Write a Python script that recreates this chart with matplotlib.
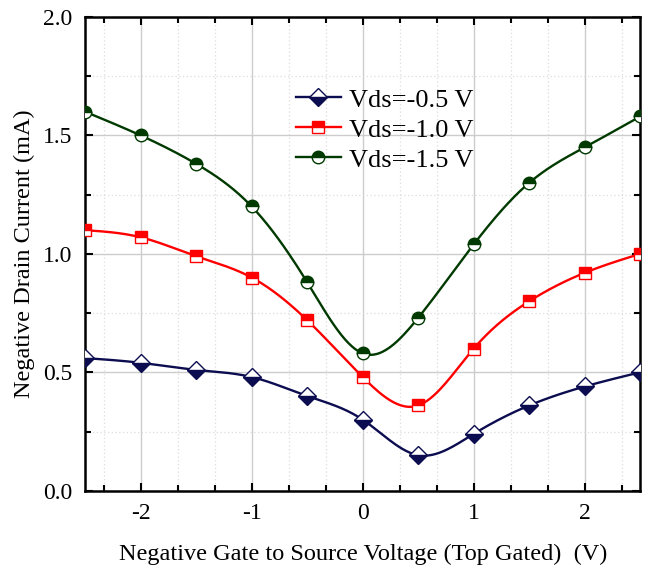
import matplotlib.pyplot as plt
import numpy as np
from matplotlib.ticker import AutoMinorLocator

plt.rcParams['font.family'] = ['Liberation Serif', 'DejaVu Serif']

vgs = [-2.5, -2.0, -1.5, -1.0, -0.5, 0.0, 0.5, 1.0, 1.5, 2.0, 2.5]
id_05 = [0.56, 0.54, 0.51, 0.48, 0.40, 0.30, 0.15, 0.24, 0.36, 0.44, 0.50]
id_10 = [1.10, 1.07, 0.99, 0.90, 0.72, 0.48, 0.36, 0.60, 0.80, 0.92, 1.00]
id_15 = [1.60, 1.50, 1.38, 1.20, 0.88, 0.58, 0.73, 1.04, 1.30, 1.45, 1.58]
labels = ['Vds=-0.5 V', 'Vds=-1.0 V', 'Vds=-1.5 V']


def spline(x, y, n=300):
    # natural cubic spline, only used to draw the smooth connecting line
    x = np.asarray(x, float)
    y = np.asarray(y, float)
    k = len(x)
    h = np.diff(x)
    A = np.zeros((k, k))
    b = np.zeros(k)
    A[0, 0] = A[-1, -1] = 1
    for i in range(1, k - 1):
        A[i, i - 1] = h[i - 1]
        A[i, i] = 2 * (h[i - 1] + h[i])
        A[i, i + 1] = h[i]
        b[i] = 6 * ((y[i + 1] - y[i]) / h[i] - (y[i] - y[i - 1]) / h[i - 1])
    m = np.linalg.solve(A, b)
    xs = np.linspace(x[0], x[-1], n)
    idx = np.clip(np.searchsorted(x, xs) - 1, 0, k - 2)
    x0, x1 = x[idx], x[idx + 1]
    hh = x1 - x0
    t0, t1 = x1 - xs, xs - x0
    ys = (m[idx] * t0**3 / (6 * hh) + m[idx + 1] * t1**3 / (6 * hh)
          + (y[idx] / hh - m[idx] * hh / 6) * t0
          + (y[idx + 1] / hh - m[idx + 1] * hh / 6) * t1)
    return xs, ys


fig, ax = plt.subplots(figsize=(6.5, 5.66), dpi=100)
fig.subplots_adjust(left=0.131, right=0.985, top=0.97, bottom=0.133)

series = [
    (id_05, '#0c0c50', 'D', 'bottom', 9),
    (id_10, '#ff0000', 's', 'top', 8),
    (id_15, '#003a00', 'o', 'top', 9),
]
for (vals, color, mk, fs, ms), lab in zip(series, labels):
    xs, ys = spline(vgs, vals)
    ax.plot(xs, ys, color=color, lw=1.7, zorder=3)
    ax.plot(vgs, vals, linestyle='none', marker=mk, ms=ms, color=color,
            fillstyle=fs, markerfacecoloralt='white', markeredgecolor=color,
            markeredgewidth=1.0, zorder=4)
    ax.plot([], [], color=color, lw=1.7, marker=mk, ms=ms, fillstyle=fs,
            markerfacecoloralt='white', markeredgecolor=color, label=lab)

ax.set_xlim(-2.5, 2.5)
ax.set_ylim(0, 2.0)
ax.xaxis.set_minor_locator(AutoMinorLocator(3))
ax.yaxis.set_minor_locator(AutoMinorLocator(2))
ax.set_xticks([-2, -1, 0, 1, 2])
ax.set_xticklabels(['-2', '-1', '0', '1', '2'])
ax.set_yticks([0, 0.5, 1.0, 1.5, 2.0])
ax.set_yticklabels(['0.0', '0.5', '1.0', '1.5', '2.0'])

ax.grid(which='major', color='#cccccc', lw=1.0)
ax.grid(which='minor', color='#dddddd', lw=0.9, linestyle=(0, (1, 2)))
ax.set_axisbelow(True)

ax.tick_params(which='both', direction='in', top=True, right=True,
               labelsize=17, width=1.5)
ax.tick_params(which='major', length=6)
ax.tick_params(axis='x', which='major', pad=9)
ax.tick_params(axis='y', which='major', pad=9)
ax.tick_params(which='minor', length=4)
for sp in ax.spines.values():
    sp.set_linewidth(1.8)

ax.set_xlabel('Negative Gate to Source Voltage (Top Gated)  (V)',
              fontsize=17.5, labelpad=14)
ax.set_ylabel('Negative Drain Current (mA)', fontsize=17.5, labelpad=6)

ax.legend(loc='upper left', bbox_to_anchor=(0.337, 0.90), frameon=False,
          fontsize=19, handlelength=1.7, labelspacing=0.25, handletextpad=0.3)

plt.savefig('out.png', dpi=100)
plt.close()
